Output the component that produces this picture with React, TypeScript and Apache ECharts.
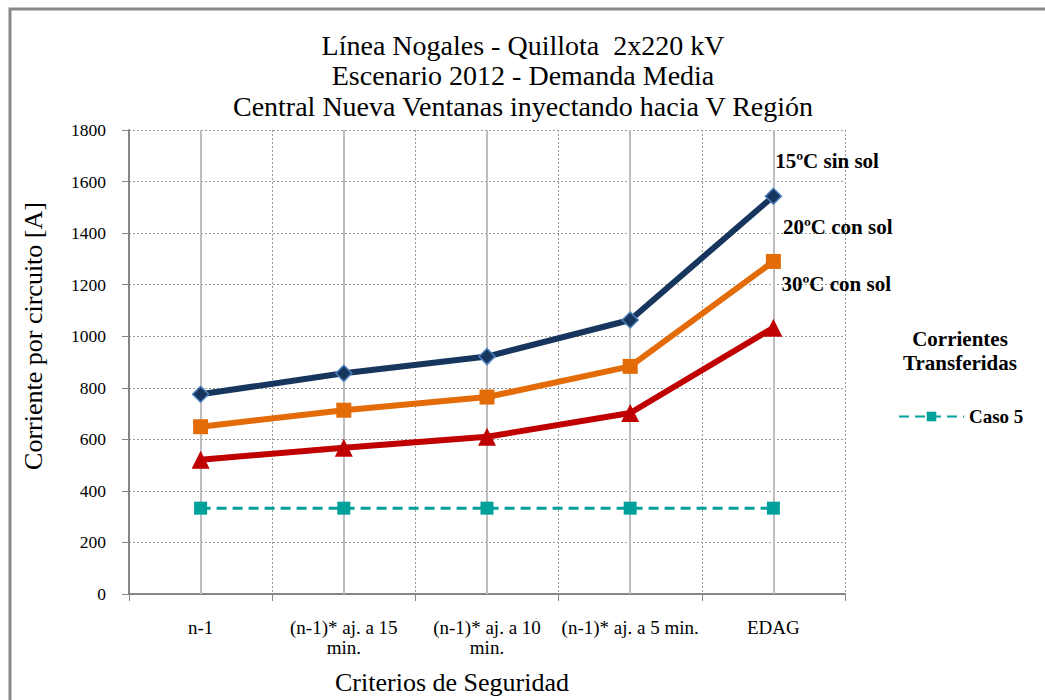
import React, { useEffect, useRef } from "react";
import * as echarts from "echarts";

// Criterios de seguridad (eje X)
const categories = [
  "n-1",
  "(n-1)* aj. a 15\nmin.",
  "(n-1)* aj. a 10\nmin.",
  "(n-1)* aj. a 5 min.",
  "EDAG",
];

// Corriente por circuito [A]
const sinSol15 = [775, 856, 921, 1063, 1543];
const conSol20 = [649, 713, 764, 883, 1290];
const conSol30 = [521, 567, 610, 702, 1033];
const caso5 = [333, 333, 333, 333, 333];

const yTicks = { min: 0, max: 1800, interval: 200 };

const titleLines = [
  "Línea Nogales - Quillota  2x220 kV",
  "Escenario 2012 - Demanda Media",
  "Central Nueva Ventanas inyectando hacia V Región",
];

const SERIF = "'Liberation Serif', 'Times New Roman', serif";

export default function App() {
  const ref = useRef<HTMLDivElement>(null);

  useEffect(() => {
    if (!ref.current) return;
    const chart = echarts.init(ref.current, undefined, { renderer: "svg" });
    const last = categories.length - 1;

    const endLabel = (text: string, offset: number[]) => ({
      show: true,
      position: "right",
      offset,
      formatter: (p: any) => (p.dataIndex === last ? text : ""),
      color: "#000",
      fontFamily: SERIF,
      fontWeight: "bold",
      fontSize: 21,
    });

    chart.setOption({
      animation: false,
      backgroundColor: "#fff",
      title: {
        text: titleLines.join("\n"),
        left: 518,
        top: 25,
        textAlign: "center",
        textStyle: {
          fontFamily: SERIF,
          fontWeight: "normal",
          fontSize: 28,
          lineHeight: 30.5,
          color: "#000",
        },
      },
      grid: { left: 129, top: 130, width: 716, height: 469, containLabel: false },
      xAxis: {
        type: "category",
        data: categories,
        boundaryGap: true,
        name: "Criterios de Seguridad",
        nameLocation: "middle",
        nameGap: 75,
        nameTextStyle: {
          fontFamily: SERIF,
          fontSize: 26,
          color: "#000",
          padding: [0, 70, 0, 0],
        },
        axisLine: { lineStyle: { color: "#868686", width: 2 } },
        axisTick: { show: true, length: 7, lineStyle: { color: "#868686", width: 1 } },
        axisLabel: {
          interval: 0,
          margin: 23,
          fontFamily: SERIF,
          fontSize: 19,
          lineHeight: 20,
          color: "#000",
        },
        splitLine: {
          show: true,
          interval: 0,
          lineStyle: { color: "#999", type: [2, 2], width: 1 },
        },
      },
      yAxis: {
        type: "value",
        min: yTicks.min,
        max: yTicks.max,
        interval: yTicks.interval,
        axisLine: { show: true, lineStyle: { color: "#868686", width: 2 } },
        axisTick: { show: true, inside: false, length: 7, lineStyle: { color: "#868686", width: 1 } },
        axisLabel: {
          margin: 23,
          fontFamily: SERIF,
          fontSize: 17.5,
          color: "#000",
          formatter: (v: number) => String(v),
        },
        splitLine: { show: true, lineStyle: { color: "#999", type: [2, 2], width: 1 } },
      },
      legend: {
        data: ["Caso 5"],
        left: 893,
        top: 402,
        itemWidth: 65,
        itemHeight: 12,
        itemGap: 10,
        textStyle: { fontFamily: SERIF, fontWeight: "bold", fontSize: 19, color: "#000" },
      },
      graphic: [
        {
          type: "rect",
          shape: { x: 10, y: 9, width: 1100, height: 760 },
          style: { fill: "none", stroke: "#888", lineWidth: 3 },
          silent: true,
          z: -10,
        },
        {
          type: "text",
          x: 33,
          y: 336,
          rotation: Math.PI / 2,
          style: {
            text: "Corriente por circuito [A]",
            fontFamily: SERIF,
            fontSize: 26,
            fill: "#000",
            align: "center",
            verticalAlign: "middle",
          },
        },
        {
          type: "text",
          x: 960,
          y: 351,
          style: {
            text: "Corrientes\nTransferidas",
            fontFamily: SERIF,
            fontWeight: "bold",
            fontSize: 21,
            lineHeight: 24,
            fill: "#000",
            align: "center",
            verticalAlign: "middle",
          },
        },
      ],
      series: [
        {
          name: "Caso 5",
          type: "line",
          data: caso5,
          symbol: "rect",
          symbolSize: 13,
          itemStyle: { color: "#00A19A" },
          lineStyle: { color: "#00A19A", width: 3, type: [10, 6] },
          z: 3,
          markLine: {
            silent: true,
            symbol: "none",
            label: { show: false },
            lineStyle: { color: "#BDBDBD", width: 2, type: "solid" },
            data: categories.map((c) => ({ xAxis: c })),
            z: 1,
          },
        },
        {
          name: "15ºC sin sol",
          type: "line",
          data: sinSol15,
          symbol: "diamond",
          symbolSize: 16,
          itemStyle: { color: "#17365D", borderColor: "#4F81BD", borderWidth: 1.5 },
          lineStyle: { color: "#17365D", width: 6 },
          label: endLabel("15ºC sin sol", [-12, -35]),
          z: 4,
        },
        {
          name: "20ºC con sol",
          type: "line",
          data: conSol20,
          symbol: "rect",
          symbolSize: 15,
          itemStyle: { color: "#E36C09" },
          lineStyle: { color: "#E36C09", width: 6 },
          label: endLabel("20ºC con sol", [-3, -34]),
          z: 4,
        },
        {
          name: "30ºC con sol",
          type: "line",
          data: conSol30,
          symbol: "triangle",
          symbolSize: 18,
          itemStyle: { color: "#C00000" },
          lineStyle: { color: "#C00000", width: 6 },
          label: endLabel("30ºC con sol", [-6, -44]),
          z: 4,
        },
      ],
    });

    return () => chart.dispose();
  }, []);

  return (
    <div
      ref={ref}
      style={{ position: "fixed", left: 0, top: 0, width: 1045, height: 700 }}
    />
  );
}
